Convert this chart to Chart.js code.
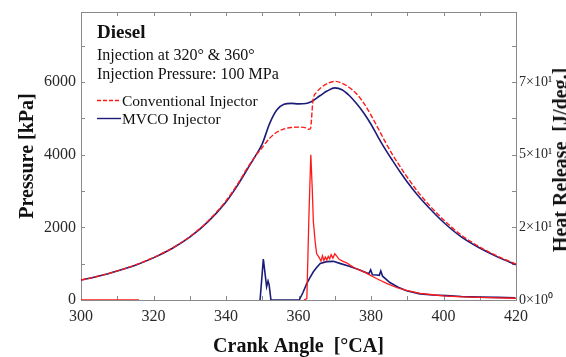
<!DOCTYPE html>
<html>
<head>
<meta charset="utf-8">
<script src="https://cdn.jsdelivr.net/npm/chart.js@4.4.1/dist/chart.umd.min.js"></script>
<style>
  html, body { margin: 0; padding: 0; background: #fff; }
  #wrap { position: relative; width: 566px; height: 357px; overflow: hidden; font-family: "Liberation Serif", "Times New Roman", serif; }
  canvas { position: absolute; left: 0; top: 0; }
  .t { position: absolute; white-space: nowrap; color: #111; }
</style>
</head>
<body>
<div id="wrap">
  <canvas id="c" width="566" height="357"></canvas>
  <div class="t" style="left:97px; top:22px; font-size:19px; line-height:19px; font-weight:bold;">Diesel</div>
  <div class="t" style="left:97px; top:46.5px; font-size:16px; line-height:16px;">Injection at 320° &amp; 360°</div>
  <div class="t" style="left:97px; top:65.5px; font-size:16px; line-height:16px;">Injection Pressure: 100 MPa</div>
  <div class="t" style="left:122px; top:93px; font-size:15.5px; line-height:15.5px;">Conventional Injector</div>
  <div class="t" style="left:122px; top:111px; font-size:15.5px; line-height:15.5px;">MVCO Injector</div>
  <div class="t" style="left:560px; top:160px; font-size:20px; line-height:20px; font-weight:bold; transform: translate(-50%,-50%) rotate(-90deg);">Heat Release&nbsp; [J/deg.]</div>
</div>
<script>
// ---- Data ----
const pressureAngles = [300,305,310,315,320,325,330,335,340,343,346,348,350,352,354,356,358,360,362,362.8,363.3,364,365,366,368,370,372,374,376,378,380,382,384,386,388,390,393,396,400,405,410,415,420];
const pressureConventional = [550,660,800,965,1170,1420,1745,2170,2730,3160,3650,3950,4200,4450,4620,4710,4750,4760,4740,4700,4720,5500,5720,5830,5960,6020,5970,5850,5680,5420,5090,4720,4340,3990,3680,3380,2970,2620,2210,1780,1460,1200,990];
const pressureMVCO = [550,660,800,960,1160,1410,1730,2150,2700,3130,3620,3950,4300,4850,5230,5390,5415,5400,5410,5430,5450,5485,5560,5630,5760,5840,5790,5630,5410,5150,4840,4480,4140,3830,3530,3250,2870,2540,2140,1730,1430,1180,970];

const heatAnglesConventional = [300,316,317,361.5,362.3,362.9,363.4,363.8,364.1,364.6,365.0,365.7,366.2,366.6,367.0,367.4,367.8,368.2,368.6,369.0,369.5,370.0,370.5,371.2,372.4,373.3,374.2,375.5,376.9,378.5,380.0,380.6,381.5,382.5,384.3,387.0,389.8,393.5,397,400,405,410,415,420];
const heatConventional = [0,0,null,0,0.5,30,50,38,27,20,16,14.6,13.4,15.2,13.6,14.8,13.8,15.0,14.2,15.6,14.4,15.9,15.2,14.0,13.2,12.8,12.0,11.0,10.3,9.4,8.4,8.0,7.4,6.8,5.7,4.3,3.3,2.3,1.8,1.4,1.1,0.9,0.7,0.6];

const heatAnglesMVCO = [349.4,350.3,351.2,351.6,351.9,352.4,360.2,361.2,362.3,363.2,364.1,365,366,367.8,369.6,371.4,374.2,376.9,379.4,379.9,380.4,381.5,382.3,382.7,383.2,385.2,387.5,389.8,393.5,397,400.9,405,410.1,415,419.7];
const heatMVCO = [0,14.1,4.6,6.5,5.2,0,0,2.5,5.7,7.8,9.7,11.2,12.6,13.2,13.3,12.6,11.5,10.3,9.0,10.4,8.7,8.6,8.5,10.0,8.2,6.0,4.4,3.2,2.1,1.7,1.5,1.2,1.0,0.9,0.8];

const xTicks = [300,310,320,330,340,350,360,370,380,390,400,410,420];
const pressureTicks = [0,1000,2000,3000,4000,5000,6000,7000];
const heatTicks = [0,12.5,25,37.5,50,62.5,75,87.5];
const heatTickLabels = {0:'0×10⁰', 25:'2×10¹', 50:'5×10¹', 75:'7×10¹'};

const RED = '#ff1a1a';
const BLUE = '#1c1c78';
const AXIS = '#8a8a8a';
const FONT = 'Liberation Serif';

const pts = (xs, ys) => xs.map((x, i) => ({x: x, y: ys[i]}));

const frame = {
  id: 'frame',
  beforeDatasetsDraw(chart) {
    const {ctx, chartArea: a, scales} = chart;
    ctx.save();
    ctx.strokeStyle = AXIS;
    ctx.lineWidth = 1;
    ctx.strokeRect(Math.round(a.left) + 0.5, Math.round(a.top) + 0.5, Math.round(a.right - a.left), Math.round(a.bottom - a.top));
    ctx.beginPath();
    xTicks.forEach(v => {
      const p = Math.round(scales.x.getPixelForValue(v)) + 0.5;
      ctx.moveTo(p, a.bottom); ctx.lineTo(p, a.bottom - 4);
      ctx.moveTo(p, a.top); ctx.lineTo(p, a.top + 4);
    });
    pressureTicks.forEach(v => {
      const p = Math.round(scales.y.getPixelForValue(v)) + 0.5;
      ctx.moveTo(a.left, p); ctx.lineTo(a.left + 4, p);
    });
    heatTicks.forEach(v => {
      const p = Math.round(scales.y2.getPixelForValue(v)) + 0.5;
      ctx.moveTo(a.right, p); ctx.lineTo(a.right - 4, p);
    });
    ctx.stroke();
    ctx.restore();
  },
  afterDraw(chart) {
    const ctx = chart.ctx;
    ctx.save();
    ctx.lineWidth = 1.4;
    ctx.strokeStyle = RED;
    ctx.setLineDash([4, 2]);
    ctx.beginPath(); ctx.moveTo(97, 100.5); ctx.lineTo(121, 100.5); ctx.stroke();
    ctx.setLineDash([]);
    ctx.strokeStyle = BLUE;
    ctx.beginPath(); ctx.moveTo(97, 118.5); ctx.lineTo(121, 118.5); ctx.stroke();
    ctx.restore();
  }
};

const fitV = w => s => { s.width = w; s.paddingTop = 0; s.paddingBottom = 0; };

new Chart(document.getElementById('c'), {
  type: 'line',
  data: {
    datasets: [
      { label: 'Conventional Injector', data: pts(pressureAngles, pressureConventional), yAxisID: 'y',
        borderColor: RED, borderWidth: 1.4, borderDash: [5, 2], pointRadius: 0, cubicInterpolationMode: 'monotone', fill: false },
      { label: 'Conventional Injector HR', data: pts(heatAnglesConventional, heatConventional), yAxisID: 'y2',
        borderColor: RED, borderWidth: 1.3, pointRadius: 0, tension: 0, spanGaps: false, fill: false },
      { label: 'MVCO Injector', data: pts(pressureAngles, pressureMVCO), yAxisID: 'y',
        borderColor: BLUE, borderWidth: 1.6, pointRadius: 0, cubicInterpolationMode: 'monotone', fill: false },
      { label: 'MVCO Injector HR', data: pts(heatAnglesMVCO, heatMVCO), yAxisID: 'y2',
        borderColor: BLUE, borderWidth: 1.6, pointRadius: 0, tension: 0, fill: false }
    ]
  },
  options: {
    responsive: false,
    animation: false,
    layout: { padding: { top: 12, left: 0, right: 0, bottom: 0 } },
    plugins: { legend: { display: false }, tooltip: { enabled: false } },
    scales: {
      x: {
        type: 'linear', position: 'bottom', min: 300, max: 420,
        grid: { display: false, drawTicks: false }, border: { display: false },
        afterBuildTicks: s => { s.ticks = xTicks.map(v => ({ value: v })); },
        afterFit: s => { s.height = 57; s.paddingLeft = 0; s.paddingRight = 0; },
        ticks: { autoSkip: false, maxRotation: 0, padding: 7, color: '#2a2a2a',
          font: { family: FONT, size: 16 }, callback: v => (v % 20 === 0 ? String(v) : '') },
        title: { display: true, text: 'Crank Angle  [°CA]', color: '#111',
          font: { family: FONT, size: 20, weight: 'bold' }, padding: { top: 0, bottom: -2 } }
      },
      y: {
        type: 'linear', position: 'left', min: 0, max: 7930,
        grid: { display: false, drawTicks: false }, border: { display: false },
        afterBuildTicks: s => { s.ticks = pressureTicks.map(v => ({ value: v })); },
        afterFit: fitV(81),
        ticks: { autoSkip: false, padding: 5, color: '#2a2a2a',
          font: { family: FONT, size: 16 }, callback: v => (v % 2000 === 0 ? String(v) : '') },
        title: { display: true, text: 'Pressure [kPa]', color: '#111',
          font: { family: FONT, size: 20, weight: 'bold' }, padding: { top: 16, bottom: 0 } }
      },
      y2: {
        type: 'linear', position: 'right', min: 0, max: 99.1,
        grid: { display: false, drawTicks: false }, border: { display: false },
        afterBuildTicks: s => { s.ticks = heatTicks.map(v => ({ value: v })); },
        afterFit: fitV(50),
        ticks: { autoSkip: false, padding: 3, color: '#2a2a2a',
          font: { family: FONT, size: 14 }, callback: v => (heatTickLabels[v] !== undefined ? heatTickLabels[v] : '') }
      }
    }
  },
  plugins: [frame]
});
</script>
</body>
</html>
